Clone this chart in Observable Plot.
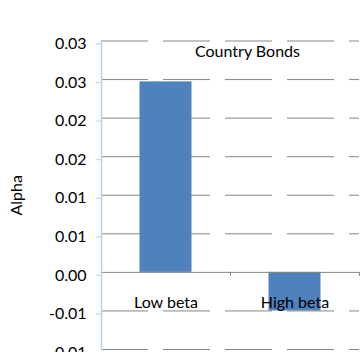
<!DOCTYPE html>
<html>
<head>
<meta charset="utf-8">
<script src="https://cdn.jsdelivr.net/npm/d3@7"></script>
<script src="https://cdn.jsdelivr.net/npm/@observablehq/plot@0.6"></script>
<style>
  html, body { margin: 0; padding: 0; background: #fff; }
</style>
</head>
<body>
<div id="chart"></div>
<script>
// Alpha of low- and high-beta country bond portfolios
const categories = ["Low beta", "High beta"];
const alphaValues = [0.0247, -0.005];
const yTicks = [-0.01, -0.005, 0, 0.005, 0.01, 0.015, 0.02, 0.025, 0.03];
const yTickLabels = ["-0.01", "-0.01", "0.00", "0.01", "0.01", "0.02", "0.02", "0.03", "0.03"];
const chartTitle = "Country Bonds";
const yLabel = "Alpha";

const rows = categories.map((category, i) => ({category, alpha: alphaValues[i]}));
const tickLabelOf = new Map(yTicks.map((t, i) => [t, yTickLabels[i]]));

const font = "Lato, 'Open Sans', sans-serif";
const gridColor = "#868686";
const axisBlue = "#b3d3f3";
const barBlue = "#4F81BD";

const chart = Plot.plot({
  width: 360,
  height: 352,
  marginTop: 40.5,
  marginBottom: 3,
  marginLeft: 101,
  marginRight: 1,
  style: {fontFamily: font, fontSize: "16px", background: "#fff", color: "#000"},
  x: {domain: categories, padding: 0, axis: null},
  y: {domain: [-0.01, 0.03], axis: null},
  marks: [
    // dashed horizontal gridlines
    Plot.ruleY(yTicks.filter(t => t !== 0), {stroke: gridColor, strokeWidth: 1, strokeDasharray: "47,15"}),
    // bars
    Plot.barY(rows, {x: "category", y: "alpha", fill: barBlue, insetLeft: 38.5, insetRight: 38.5}),
    // horizontal category axis at zero, with ticks between categories
    Plot.ruleY([0], {stroke: gridColor, strokeWidth: 1}),
    Plot.ruleX(categories, {x: d => d, y1: 0, y2: 0, dx: -64.5, insetBottom: -4, stroke: gridColor}),
    Plot.ruleX([categories[categories.length - 1]], {x: d => d, y1: 0, y2: 0, dx: 64.5, insetBottom: -4, stroke: gridColor}),
    // vertical value axis line
    Plot.frame({anchor: "left", stroke: axisBlue, strokeWidth: 1.5}),
    Plot.axisY({
      ticks: yTicks,
      tickFormat: d => tickLabelOf.get(d),
      tickSize: 5,
      tickPadding: 10,
      stroke: axisBlue,
      fill: "#000",
      fontSize: 16,
      dy: 3,
      label: yLabel,
      labelAnchor: "center",
      labelArrow: "none",
      labelOffset: 91
    }),
    // category labels just under the zero line
    Plot.text(rows, {x: "category", y: 0, text: "category", dy: 30, fontSize: 16, fill: "#000"}),
    // chart title
    Plot.text([chartTitle], {frameAnchor: "top", dx: 17, dy: 4.5, lineAnchor: "top", fontSize: 16, fill: "#000"})
  ]
});

document.getElementById("chart").appendChild(chart);
</script>
</body>
</html>
